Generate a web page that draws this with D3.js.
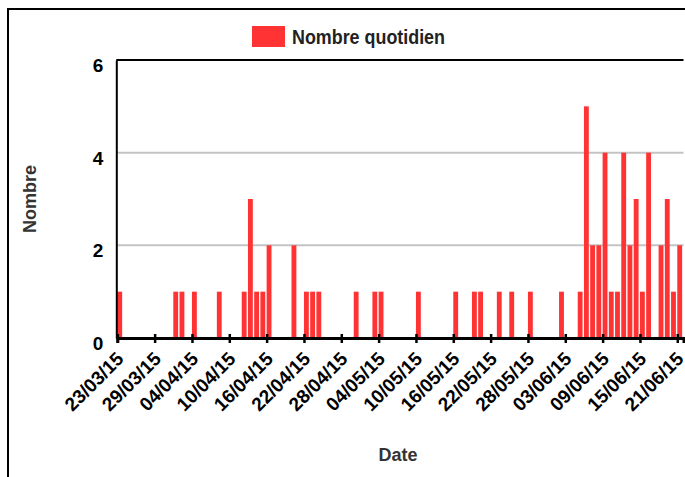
<!DOCTYPE html>
<html>
<head>
<meta charset="utf-8">
<script src="https://cdn.jsdelivr.net/npm/d3@7"></script>
<style>
    body { margin: 0; background: #fff; }
    text { font-family: "Liberation Sans", Arial, sans-serif; font-weight: bold; }
</style>
</head>
<body>
<div id="main"></div>
<script>
// daily counts
var dates = [
    "2015-03-23", "2015-04-01", "2015-04-02", "2015-04-04", "2015-04-08",
    "2015-04-12", "2015-04-13", "2015-04-14", "2015-04-15", "2015-04-16",
    "2015-04-20", "2015-04-22", "2015-04-23", "2015-04-24", "2015-04-30",
    "2015-05-03", "2015-05-04", "2015-05-10", "2015-05-16", "2015-05-19",
    "2015-05-20", "2015-05-23", "2015-05-25", "2015-05-28", "2015-06-02",
    "2015-06-05", "2015-06-06", "2015-06-07", "2015-06-08", "2015-06-09",
    "2015-06-10", "2015-06-11", "2015-06-12", "2015-06-13", "2015-06-14",
    "2015-06-15", "2015-06-16", "2015-06-18", "2015-06-19", "2015-06-20",
    "2015-06-21"
];
var counts = [
    1, 1, 1, 1, 1,
    1, 3, 1, 1, 2,
    2, 1, 1, 1, 1,
    1, 1, 1, 1, 1,
    1, 1, 1, 1, 1,
    1, 5, 2, 2, 4,
    1, 1, 4, 2, 3,
    1, 4, 2, 3, 1,
    2
];
var tickLabels = [
    "23/03/15", "29/03/15", "04/04/15", "10/04/15", "16/04/15", "22/04/15",
    "28/04/15", "04/05/15", "10/05/15", "16/05/15", "22/05/15", "28/05/15",
    "03/06/15", "09/06/15", "15/06/15", "21/06/15"
];
var yTicks = [0, 2, 4, 6];
var seriesName = "Nombre quotidien";

const width = 685;
const height = 477;
const plotLeft = 117.3, plotRight = 683.5, plotTop = 60, plotBottom = 338;
const barColor = "#ff3333";

var parseDay = d3.utcParse("%Y-%m-%d");
var parseTick = d3.utcParse("%d/%m/%y");
var data = dates.map((d, i) => ({ date: parseDay(d), value: counts[i] }));

const svg = d3.select("#main")
    .append("svg")
    .attr("width", width)
    .attr("height", height);

// outer frame
svg.append("rect")
    .attr("x", 8)
    .attr("y", 9)
    .attr("width", width + 20)
    .attr("height", height + 20)
    .attr("fill", "none")
    .attr("stroke", "#000")
    .attr("stroke-width", 2);

const xScale = d3.scaleUtc()
    .domain([parseDay("2015-03-23"), parseDay("2015-06-22")])
    .range([plotLeft, plotRight]);

const yScale = d3.scaleLinear()
    .domain([0, 6])
    .range([plotBottom, plotTop]);

// grid
svg.append("g")
    .selectAll("line")
    .data(yTicks.filter(v => v > 0 && v < 6))
    .enter()
    .append("line")
    .attr("x1", plotLeft)
    .attr("x2", plotRight)
    .attr("y1", d => yScale(d))
    .attr("y2", d => yScale(d))
    .attr("stroke", "#c4c4c4")
    .attr("stroke-width", 2);

// top border
svg.append("line")
    .attr("x1", plotLeft - 1)
    .attr("x2", plotRight)
    .attr("y1", yScale(6))
    .attr("y2", yScale(6))
    .attr("stroke", "#000")
    .attr("stroke-width", 2);

var dayWidth = xScale(parseDay("2015-03-24")) - xScale(parseDay("2015-03-23"));

svg.append("g")
    .selectAll("rect")
    .data(data)
    .enter()
    .append("rect")
    .attr("x", d => xScale(d.date))
    .attr("y", d => yScale(d.value))
    .attr("width", dayWidth * 0.78)
    .attr("height", d => yScale(0) - yScale(d.value))
    .attr("fill", barColor);

// y axis
const yAxis = d3.axisLeft(yScale)
    .tickValues(yTicks)
    .tickFormat(d3.format("d"))
    .tickSize(0)
    .tickPadding(13);

svg.append("g")
    .attr("transform", "translate(" + (plotLeft - 1) + ",0)")
    .call(yAxis)
    .call(g => g.select(".domain").attr("stroke", "#000").attr("stroke-width", 2))
    .selectAll("text")
    .style("font-size", "19px")
    .attr("dy", "0.6em")
    .attr("fill", "#000");

// x axis
const xAxis = d3.axisBottom(xScale)
    .tickValues(tickLabels.map(t => parseTick(t)))
    .tickFormat(d3.utcFormat("%d/%m/%y"))
    .tickSize(5);

const xg = svg.append("g")
    .attr("transform", "translate(0," + plotBottom + ")")
    .call(xAxis);

xg.select(".domain")
    .attr("stroke", "#000")
    .attr("stroke-width", 3);

xg.selectAll(".tick line")
    .attr("y1", -4)
    .attr("y2", 5)
    .attr("stroke", "#000")
    .attr("stroke-width", 2.5);

xg.selectAll(".tick text")
    .style("font-size", "19px")
    .attr("fill", "#000")
    .attr("text-anchor", "end")
    .attr("dy", null)
    .attr("y", 0)
    .attr("transform", "translate(7,22) rotate(-45)");

// axis titles
svg.append("text")
    .attr("x", 398)
    .attr("y", 461)
    .attr("text-anchor", "middle")
    .style("font-size", "18px")
    .attr("fill", "#333")
    .text("Date");

svg.append("text")
    .attr("transform", "translate(36,199) rotate(-90)")
    .attr("text-anchor", "middle")
    .style("font-size", "18px")
    .attr("fill", "#333")
    .text("Nombre");

// legend
const legend = svg.append("g")
    .attr("transform", "translate(252,26)");

legend.append("rect")
    .attr("width", 33)
    .attr("height", 21)
    .attr("fill", barColor);

legend.append("text")
    .attr("x", 40)
    .attr("y", 18)
    .attr("textLength", 153)
    .attr("lengthAdjust", "spacingAndGlyphs")
    .style("font-size", "21px")
    .attr("fill", "#222")
    .text(seriesName);
</script>
</body>
</html>
